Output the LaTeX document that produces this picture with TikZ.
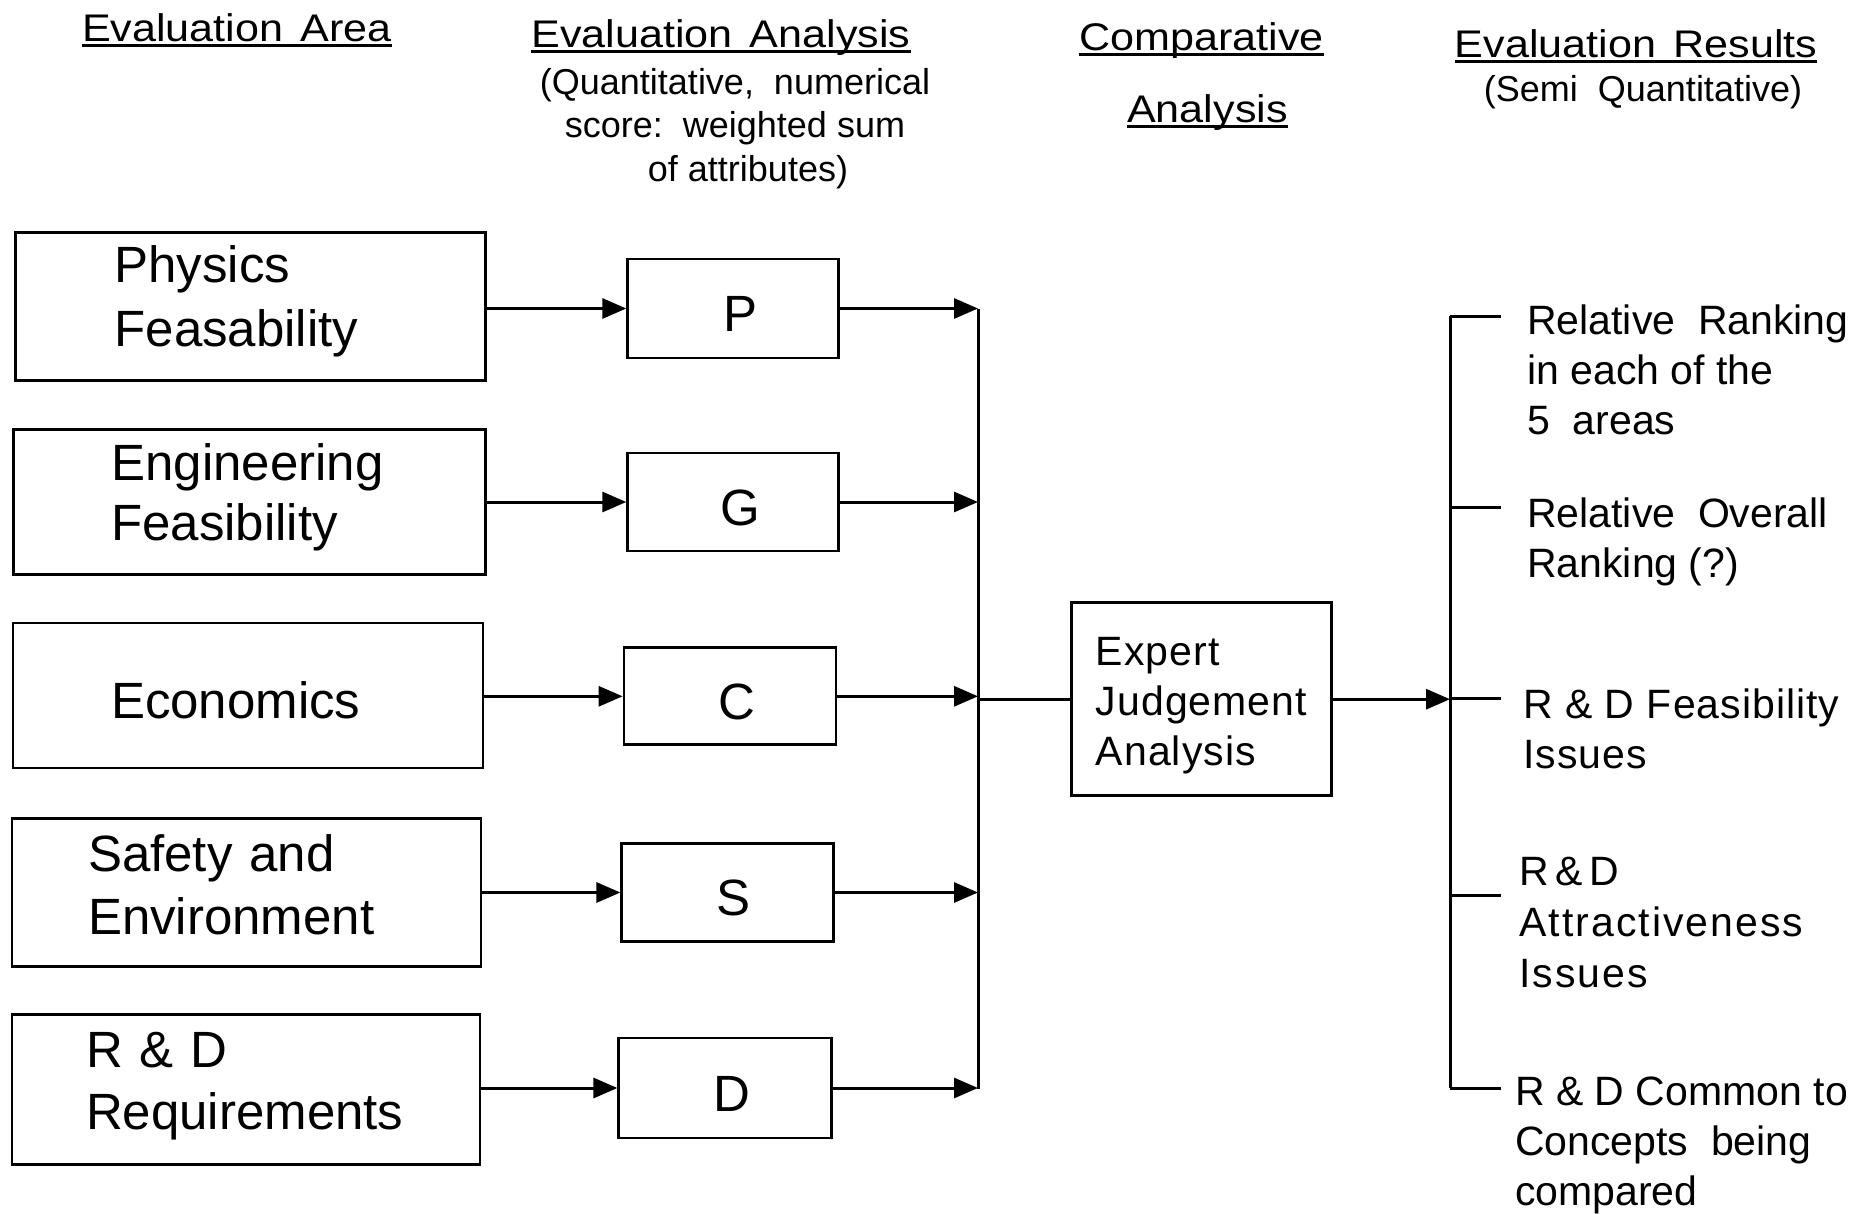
\documentclass[tikz,border=0pt]{standalone}
\usepackage{fontspec}
\setmainfont{Liberation Sans}
\newfontfamily\hdrfont[FakeStretch=1.12]{Liberation Sans}
\newfontfamily\widefont[LetterSpace=5]{Liberation Sans}
\newfontfamily\midfont[LetterSpace=2.5]{Liberation Sans}
\usetikzlibrary{arrows.meta}
\begin{document}
\begin{tikzpicture}[x=1pt,y=-1pt,
  lbox/.style={draw, line width=2.8pt, rectangle, inner ysep=0pt, align=left},
  mbox/.style={draw, line width=2.8pt, rectangle, inner sep=0pt,
    text height=46.5pt, text depth=0pt,
    font=\fontsize{51}{61}\selectfont},
  ebox/.style={draw, line width=2.8pt, rectangle, inner sep=0pt, align=left,
    font=\midfont\fontsize{41}{50}\selectfont},
  hdr/.style={inner sep=0pt, anchor=base, font=\hdrfont\fontsize{38.5}{46}\selectfont},
  sub/.style={inner sep=0pt, align=center, font=\fontsize{36}{43.5}\selectfont},
  rtext/.style={inner sep=0pt, anchor=north west, align=left,
    font=\fontsize{41}{50}\selectfont},
  ul/.style={line width=2.6pt},
  conn/.style={line width=3pt},
  arr/.style={line width=3pt, -{Triangle[length=24pt,width=20pt]}}
]
\useasboundingbox (0,0) rectangle (1871,1213);

% headers
\node[hdr] (hA) at (237,41) {Evaluation\hspace{0.45em}Area};
\node[hdr] (hB) at (721,47) {Evaluation\hspace{0.45em}Analysis};
\node[sub, anchor=north] (sB) at (735,68) {(Quantitative,~~numerical\\score:~~weighted sum\\\hspace*{26pt}of attributes)};
\node[hdr] (hC1) at (1201.5,50) {Comparative};
\node[hdr] (hC2) at (1207.5,122) {Analysis};
\node[hdr] (hD) at (1636,57) {Evaluation\hspace{0.45em}Results};
\node[sub, anchor=north] (sD) at (1643,75) {(Semi~~Quantitative)};
\foreach \h in {hA,hB,hC1,hC2,hD}
  \draw[ul] ([yshift=-4.5pt]\h.base west) -- ([yshift=-4.5pt]\h.base east);

% left boxes
\node[lbox, minimum height=148, text width=272, inner xsep=99,
  font=\fontsize{51}{64}\selectfont] (phys) at (250.5,306.6)
  {Physics\\Feasability\rule[-22pt]{0pt}{0pt}};
\node[lbox, minimum height=145, text width=276, inner xsep=98,
  font=\fontsize{51}{60}\selectfont] (eng) at (249.3,502.3)
  {Engineering\\Feasibility\rule[-20.5pt]{0pt}{0pt}};
\node[lbox, minimum height=145, text width=274, inner xsep=98,
  font=\fontsize{51}{61}\selectfont] (eco) at (248,695.5)
  {\rule{0pt}{47pt}Economics};
\node[lbox, minimum height=148, text width=317, inner xsep=76,
  font=\fontsize{51}{63}\selectfont] (saf) at (246.5,892.5)
  {Safety~and\\Environment\rule[-16.8pt]{0pt}{0pt}};
\node[lbox, minimum height=150, text width=320, inner xsep=74,
  font=\fontsize{51}{62}\selectfont] (rd) at (246,1089.3)
  {R \&~D\\Requirements\rule[-16.7pt]{0pt}{0pt}};

% middle boxes
\node[mbox, minimum width=211, minimum height=99] (P) at (733.2,308.5) {\hspace*{14pt}P};
\node[mbox, minimum width=211, minimum height=98] (G) at (733.2,502) {\hspace*{14pt}G};
\node[mbox, minimum width=212, minimum height=97] (C) at (730,696.3) {\hspace*{14pt}C};
\node[mbox, minimum width=212, minimum height=98] (S) at (727.8,892.5) {\hspace*{12pt}S};
\node[mbox, minimum width=213, minimum height=100] (D) at (725.3,1088) {\hspace*{14pt}D};

% expert box
\node[ebox, minimum width=260, minimum height=193] (E) at (1201.5,699.2)
  {\rule{0pt}{42pt}Expert\\Judgement\\Analysis};

% bars
\coordinate (bt) at (978,309);
\coordinate (bb) at (978,1089);
\coordinate (rt) at (1450,316);
\coordinate (rb) at (1450,1088);

% arrows left -> middle
\draw[arr] (phys.east |- P.west) -- (P.west);
\draw[arr] (eng.east |- G.west) -- (G.west);
\draw[arr] (eco.east |- C.west) -- (C.west);
\draw[arr] (saf.east |- S.west) -- (S.west);
\draw[arr] (rd.east |- D.west) -- (D.west);

% middle -> bar
\draw[arr] (P.east) -- (P.east -| bt);
\draw[arr] (G.east) -- (G.east -| bt);
\draw[arr] (C.east) -- (C.east -| bt);
\draw[arr] (S.east) -- (S.east -| bt);
\draw[arr] (D.east) -- (D.east -| bt);
\draw[conn] (bt) -- (bb);
\draw[conn] (E.west -| bt) -- (E.west);

% expert -> right bar
\draw[arr] (E.east) -- (E.east -| rt);
\draw[conn] (rt) -- (rb);

% ticks and results
\coordinate (k1) at (1501,316);
\coordinate (k2) at (1501,507);
\coordinate (k3) at (1501,698);
\coordinate (k4) at (1501,895);
\coordinate (k5) at (1501,1088);
\draw[conn] (rt) -- (k1);
\draw[conn] (k2 -| rt) -- (k2);
\draw[conn] (k3 -| rt) -- (k3);
\draw[conn] (k4 -| rt) -- (k4);
\draw[conn] (rb) -- (k5);

\node[rtext] (r1) at (1527,305) {Relative~~Ranking\\in~each~of~the\\5~~areas};
\node[rtext] (r2) at (1527,498) {Relative~~Overall\\Ranking (?)};
\node[rtext, font=\midfont\fontsize{41}{50}\selectfont] (r3) at (1523,689) {R \& D Feasibility\\Issues};
\node[rtext, font=\widefont\fontsize{41}{51}\selectfont] (r4) at (1519,857) {R\,\&\,D\\Attractiveness\\Issues};
\node[rtext] (r5) at (1515,1077) {R \& D Common to\\Concepts~~being\\compared};
\end{tikzpicture}
\end{document}
